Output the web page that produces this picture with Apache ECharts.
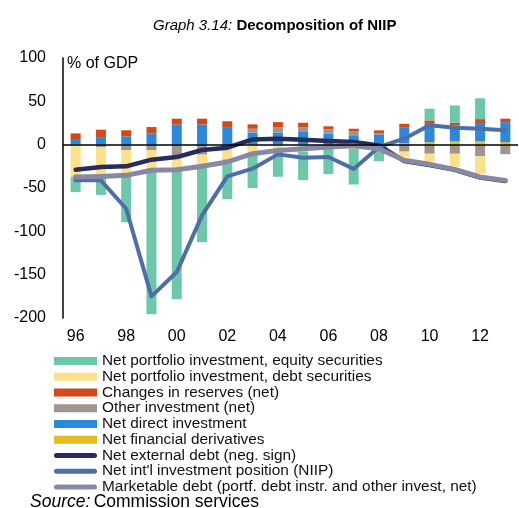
<!DOCTYPE html>
<html>
<head>
<meta charset="utf-8">
<script src="https://cdn.jsdelivr.net/npm/echarts@6/dist/echarts.min.js"></script>
<style>
html, body { margin: 0; padding: 0; background: #fff; }
#chart { width: 519px; height: 508px; }
</style>
</head>
<body>
<div id="chart"></div>
<script>
var years = ['96','97','98','99','00','01','02','03','04','05','06','07','08','09','10','11','12','13'];

// bar components, % of GDP
var derivatives = [0, 0, 0, 0, 0, 0, 0, 0, 0, 0, 0, 0, 0, 1.5, 3, 3.8, 4, 3];
var directInv = [6.5, 8.8, 9.6, 12.7, 23.4, 23.4, 20.3, 13.8, 13.8, 14.6, 12.7, 10, 12, 18, 21, 18.5, 21, 23];
var otherInv = [0, -3, -6.6, -6.6, -12, -11.5, -2, 4.6, 6.5, 5.7, 4.9, 5.7, 1.5, -8, -10.5, -10.5, -13.5, -11];
var reserves = [6.5, 8.5, 7, 7.6, 6.6, 6.6, 6.7, 5, 5.7, 5, 3.6, 2.7, 3, 4.6, 4, 3, 4.5, 4];
var debtSec = [-37, -32, -30, -22, -16, -11, -15, -12, -5, -8, -5, -5, 0, -6, -10, -15, -20, 0];
var equitySec = [-17.7, -23, -53, -167, -150, -90, -46, -38, -32, -33, -29, -41, -19, 0, 13.5, 20, 24, 0];

// lines
var extDebt = [-28.9, -25.8, -25, -17.3, -14.3, -6.2, -3.5, 6, 6.9, 5.8, 4.2, 3, -0.8, -19, -23.5, -29, -38, -42];
var niip = [-41.2, -41.2, -73.9, -175, -147, -81.6, -36.6, -27.7, -11.2, -15, -14.3, -28, -2.7, 6.9, 22.3, 19.6, 18.4, 16.5];
var marketDebt = [-37.3, -36.6, -35.4, -29.6, -28.9, -25, -20, -10.4, -6.6, -4.6, -2.7, -1.2, -4.6, -18, -22.7, -28.5, -37.3, -41.2];

var font = "'Liberation Sans', Arial, sans-serif";
// rounded thick stroke for the line entries in the legend
var lineIcon = 'path://M2.5,0 L40.5,0 A2.5,2.5 0 0 1 40.5,5 L2.5,5 A2.5,2.5 0 0 1 2.5,0 Z';

function bar(name, data, color) {
	return {
		name: name,
		type: 'bar',
		stack: 'niip',
		barWidth: 10,
		data: data,
		itemStyle: { color: color }
	};
}

function line(name, data, color, width) {
	return {
		name: name,
		type: 'line',
		symbol: 'none',
		data: data,
		lineStyle: { color: color, width: width, cap: 'round', join: 'round' },
		itemStyle: { color: color }
	};
}

var chart = echarts.init(document.getElementById('chart'));

var derivSeries = bar('Net financial derivatives', derivatives, '#e5bd20');
derivSeries.markLine = {
	silent: true,
	symbol: ['none', 'none'],
	label: { show: false },
	lineStyle: { color: '#000', width: 1.5, type: 'solid' },
	data: [{ yAxis: 0 }]
};

var option = {
	animation: false,
	textStyle: { fontFamily: font },
	title: {
		left: 148,
		top: 13,
		text: '{a|Graph 3.14: }{b|Decomposition of NIIP}',
		textStyle: {
			rich: {
				a: { fontFamily: font, fontSize: 15, fontStyle: 'italic', fontWeight: 'normal', color: '#000' },
				b: { fontFamily: font, fontSize: 15, fontWeight: 'bold', color: '#000' }
			}
		}
	},
	grid: { left: 63, top: 58, width: 455, height: 260 },
	legend: {
		orient: 'vertical',
		left: 54,
		top: 353,
		padding: 0,
		itemGap: 0,
		itemWidth: 43,
		itemHeight: 8,
		textStyle: { fontFamily: font, fontSize: 15.4, lineHeight: 15.75, color: '#111' },
		data: [
			{ name: 'Net portfolio investment, equity securities', icon: 'rect' },
			{ name: 'Net portfolio investment, debt securities', icon: 'rect' },
			{ name: 'Changes in reserves (net)', icon: 'rect' },
			{ name: 'Other investment (net)', icon: 'rect' },
			{ name: 'Net direct investment', icon: 'rect' },
			{ name: 'Net financial derivatives', icon: 'rect' },
			{ name: 'Net external debt (neg. sign)', icon: lineIcon },
			{ name: "Net int'l investment position (NIIP)", icon: lineIcon },
			{ name: 'Marketable debt (portf. debt instr. and other invest, net)', icon: lineIcon }
		]
	},
	xAxis: {
		type: 'category',
		data: years,
		axisLine: { show: false, onZero: false },
		axisTick: { show: false },
		axisLabel: { interval: 1, fontSize: 16, color: '#000', margin: 11, fontFamily: font }
	},
	yAxis: {
		type: 'value',
		min: -200,
		max: 100,
		interval: 50,
		axisLine: { show: true, lineStyle: { color: '#000', width: 1.5 } },
		axisTick: { show: false },
		splitLine: { show: false },
		axisLabel: { fontSize: 16, color: '#000', margin: 17, fontFamily: font }
	},
	graphic: [
		{
			type: 'text',
			left: 67,
			top: 56,
			style: { text: '% of GDP', fontSize: 16, fontFamily: font, fill: '#000' }
		},
		{
			type: 'text',
			left: 30,
			top: 493,
			style: {
				text: '{i|Source:} {n|Commission services}',
				rich: {
					i: { fontSize: 17.5, fontStyle: 'italic', fontFamily: font, fill: '#000' },
					n: { fontSize: 17.5, fontFamily: font, fill: '#000' }
				}
			}
		}
	],
	series: [
		derivSeries,
		bar('Net direct investment', directInv, '#2b89db'),
		bar('Other investment (net)', otherInv, '#a0958d'),
		bar('Changes in reserves (net)', reserves, '#d14a17'),
		bar('Net portfolio investment, debt securities', debtSec, '#fde08a'),
		bar('Net portfolio investment, equity securities', equitySec, '#6cc8a8'),
		line('Net external debt (neg. sign)', extDebt, '#272c5f', 4.5),
		line("Net int'l investment position (NIIP)", niip, '#4c6fa8', 4),
		line('Marketable debt (portf. debt instr. and other invest, net)', marketDebt, '#8789a3', 5)
	]
};

chart.setOption(option);
</script>
</body>
</html>
